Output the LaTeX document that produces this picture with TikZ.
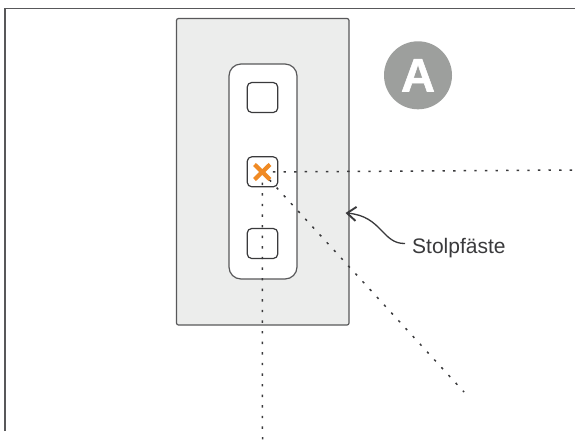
\documentclass[tikz,border=0pt]{standalone}
\usepackage{fontspec}
\setmainfont{Liberation Sans}
\newfontfamily\badgefont[BoldFeatures={FakeBold=1.2}]{Liberation Sans}
\usetikzlibrary{arrows.meta}
\definecolor{plategray}{HTML}{ECEDEC}
\definecolor{linegray}{HTML}{58585A}
\definecolor{badge}{HTML}{9D9F9D}
\definecolor{crossorange}{HTML}{F08A24}
\definecolor{inkk}{HTML}{3A3A3C}
\tikzset{
  framed/.style={draw=linegray,line width=1.2pt},
  btn/.style={draw=inkk,line width=1.2pt,rounded corners=4.5pt,minimum width=30.5pt,minimum height=30pt,inner sep=0pt,fill=none},
  sight/.style={draw=inkk,line width=1.5pt,dash pattern=on 2.4pt off 8.2pt},
  crossline/.style={draw=crossorange,line width=4.2pt}
}
\begin{document}
\begin{tikzpicture}[x=1pt,y=-1pt]
\useasboundingbox (0,0) rectangle (575,440);
\fill[white] (0,0) rectangle (575,440);
\draw[framed] (5,431) -- (5,8.5) -- (575,8.5);
\node[framed,fill=plategray,rounded corners=2pt,minimum width=172.5pt,minimum height=306.5pt,inner sep=0pt] (plate) at (262.75,171.75) {};
\node[framed,fill=white,rounded corners=12pt,minimum width=68pt,minimum height=215pt,inner sep=0pt] (panel) at (263,171.5) {};
\node[btn] (b1) at (262.5,97.5) {};
\node[btn] (b2) at (262.5,171.8) {};
\node[btn] (b3) at (262.5,243.5) {};
\node[circle,fill=badge,minimum size=68pt,inner sep=0pt,text=white,font=\badgefont\bfseries\fontsize{47}{47}\selectfont] (badgeA) at (418,75.3) {A};
\node[anchor=base west,inner sep=0pt,text=inkk,font=\fontsize{21}{24}\selectfont] (lbl) at (412,253) {Stolpfäste};
\coordinate (c) at (262.3,172);
\coordinate (eR) at (575,170);
\coordinate (eB) at (262.5,440);
\coordinate (eD) at (464,392);
\coordinate (tip) at (345.5,213);
\coordinate (lblL) at (405,243.5);
\draw[sight] (c) -- (eR);
\draw[sight] (c) -- (eB);
\draw[sight] (c) -- (eD);
\draw[crossline] (254.5,164.5) -- (270,179.5);
\draw[crossline] (270,164.5) -- (254.5,179.5);
\draw[inkk,line width=1.3pt,-{Straight Barb[length=9pt,width=14pt,line width=1.9pt]}] (lblL) .. controls (382,244) and (382,216) .. (tip);
\end{tikzpicture}
\end{document}
